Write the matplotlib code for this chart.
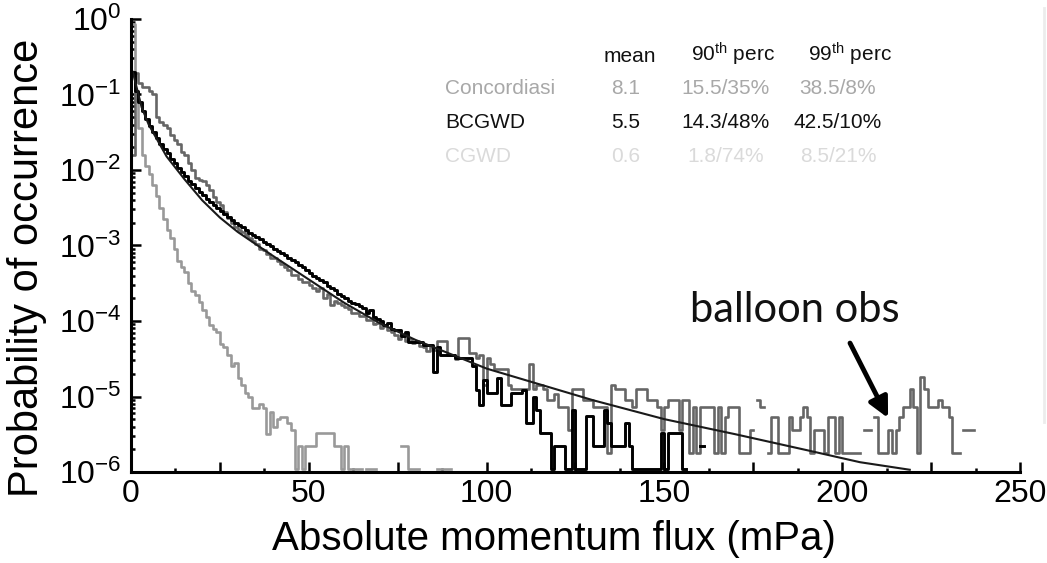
import numpy as np
import matplotlib.pyplot as plt
from matplotlib.ticker import MultipleLocator, FuncFormatter, LogLocator, NullFormatter
from matplotlib.lines import Line2D

plt.rcParams['font.family'] = ['Liberation Sans', 'DejaVu Sans']
plt.rcParams['mathtext.fontset'] = 'custom'
plt.rcParams['mathtext.rm'] = 'Liberation Sans'
plt.rcParams['mathtext.it'] = 'Liberation Sans:italic'
plt.rcParams['mathtext.bf'] = 'Liberation Sans:bold'

# ---------------- data (1 mPa bins) ----------------
# Concordiasi balloon obs: log10(p) for bins 0..96, then counts for bins 97..236
conc_log_head = [
    -1.80, -0.72, -0.85, -0.90, -0.90, -0.95, -1.00, -1.30, -1.36, -1.40,
    -1.45, -1.54, -1.60, -1.66, -1.76, -1.80, -1.91, -2.00, -2.11, -2.13,
    -2.15, -2.20, -2.26, -2.36, -2.42, -2.47, -2.55, -2.63, -2.70, -2.76,
    -2.79, -2.82, -2.86, -2.90, -2.94, -2.98, -3.04, -3.06, -3.11, -3.16,
    -3.16, -3.20, -3.24, -3.28, -3.32, -3.39, -3.39, -3.44, -3.49, -3.49,
    -3.52, -3.56, -3.60, -3.56, -3.69, -3.64, -3.79, -3.74, -3.76, -3.79,
    -3.82, -3.84, -3.89, -3.89, -3.94, -3.94, -3.99, -3.99, -4.04, -4.02,
    -4.09, -4.06, -4.12, -4.14, -4.19, -4.24, -4.19, -4.26, -4.24, -4.29,
    -4.26, -4.33, -4.35, -4.40, -4.34, -4.38, -4.27, -4.27, -4.27, -4.45,
    -4.45, -4.50, -4.22, -4.22, -4.22, -4.43, -4.43]
conc_tail_counts = [
    18, 20, 8, 18, 15, 13, 13, 13, 13, 8,
    7, 7, 7, 7, 7, 15, 7, 8, 8, 7,
    5, 5, 6, 4, 4, 4, 2, 7, 7, 7,
    5, 5, 5, 4, 4, 4, 4, 1, 8, 7,
    7, 7, 5, 5, 4, 7, 7, 7, 5, 5,
    5, 4, 2, 4, 5, 5, 5, 2, 5, 5,
    1, 4, 1, 4, 4, 4, 4, 1, 4, 1,
    3, 4, 4, 4, 1, 1, 1, 2, None, 5,
    4, None, 1, 3, 3, 1, 1, 1, 3, 2,
    2, 3, 4, 3, 1, 2, 2, 2, 1, 3,
    3, 1, 3, 1, 1, 1, 1, 1, None, 2,
    2, None, 3, 1, 1, 1, 2, 1, 2, 3,
    4, 4, 7, 4, 1, 10, 7, 4, 4, 4,
    5, 4, 4, 3, 1, 1, None, 2, 2, 2]
conc_unit = 1.8e-6

# BCGWD: log10(p) for bins 0..95, then counts for bins 96..160
bcgwd_log_head = [
    -0.70, -0.95, -1.10, -1.22, -1.33, -1.42, -1.50, -1.58, -1.65, -1.72,
    -1.78, -1.85, -1.91, -1.97, -2.03, -2.08, -2.14, -2.19, -2.24, -2.29,
    -2.33, -2.38, -2.42, -2.46, -2.50, -2.54, -2.58, -2.62, -2.66, -2.70,
    -2.73, -2.76, -2.79, -2.83, -2.86, -2.89, -2.92, -2.95, -2.98, -3.01,
    -3.04, -3.07, -3.10, -3.13, -3.16, -3.19, -3.22, -3.26, -3.29, -3.33,
    -3.37, -3.40, -3.43, -3.46, -3.49, -3.53, -3.56, -3.59, -3.64, -3.67,
    -3.70, -3.73, -3.76, -3.78, -3.80, -3.83, -3.90, -3.86, -3.95, -3.97,
    -4.00, -4.05, -4.02, -4.10, -4.12, -4.12, -4.20, -4.15, -4.28, -4.28,
    -4.28, -4.28, -4.32, -4.32, -4.32, -4.68, -4.35, -4.45, -4.45, -4.45,
    -4.45, -4.49, -4.49, -4.49, -4.49, -4.49]
bcgwd_tail_counts = [
    23, 11, 7, 15, 10, 10, 10, 16, 7, 7,
    7, 10, 10, 10, 11, 4, 4, 9, 6, 3,
    3, 3, 1, 2, 2, 2, 1, 1, 6, 1,
    1, 1, 5, 5, 2, 2, 2, 6, 4, 2,
    2, 2, 2, 4, 2, 1, 1, 1, 1, 1,
    1, 1, 1, 3, 1, 3, 3, 3, 3, 1,
    None, None, None, None, 2]
bcgwd_unit = 1.1e-6

# CGWD: log10(p) for bins 0..45, then counts for bins 46..89
cgwd_log_head = [
    -0.07, -1.07, -1.45, -1.80, -1.95, -2.05, -2.20, -2.35, -2.50, -2.65,
    -2.80, -2.90, -3.05, -3.20, -3.28, -3.35, -3.50, -3.60, -3.65, -3.75,
    -3.85, -3.95, -4.05, -4.10, -4.15, -4.30, -4.35, -4.45, -4.60, -4.55,
    -4.75, -4.85, -4.95, -5.00, -5.15, -5.15, -5.10, -5.15, -5.50, -5.20,
    -5.40, -5.30, -5.27, -5.27, -5.35, -5.45]
cgwd_tail_counts = [
    1, 2, 1, 2, 2, 2, 3, 3, 3, 3,
    3, 2, 2, 1, 2, 1, 1, 1, 1, None,
    1, 1, 1, None, None, None, None, None, None, None,
    2, 2, 1, 1, 1, None, None, None, None, None,
    1, 1, 1, 1]
cgwd_unit = 1.1e-6

# smooth fitted distribution
fit_x = [0.5, 3, 5, 10, 15, 20, 25, 30, 40, 50, 60, 70, 80, 90, 100,
         115, 130, 150, 170, 190, 205, 219]
fit_log = [-0.70, -1.17, -1.40, -1.82, -2.12, -2.40, -2.63, -2.82, -3.14,
           -3.45, -3.76, -4.03, -4.25, -4.44, -4.63, -4.84, -5.05, -5.30,
           -5.50, -5.71, -5.87, -5.97]

# table
table_cols = ['mean', '90$^{\\mathrm{th}}$ perc', '99$^{\\mathrm{th}}$ perc']
table_rows = ['Concordiasi', 'BCGWD', 'CGWD']
table_vals = [['8.1', '15.5/35%', '38.5/8%'],
              ['5.5', '14.3/48%', '42.5/10%'],
              ['0.6', '1.8/74%', '8.5/21%']]
table_colors = ['#a8a8a8', '#111111', '#dadada']


def hist_series(log_head, counts, unit):
    tail = np.array([np.nan if c is None else c for c in counts], dtype=float)
    p = np.concatenate([10.0 ** np.array(log_head), tail * unit])
    edges = np.arange(len(p) + 1)
    return edges, np.append(p, p[-1])


fig = plt.figure(figsize=(10.47, 5.63), dpi=100)
ax = fig.add_axes([0.1251, 0.1616, 0.8491, 0.8047])

# 直方图（阶梯线）
x, y = hist_series(cgwd_log_head, cgwd_tail_counts, cgwd_unit)
ax.plot(x, y, drawstyle='steps-post', color='#999999', lw=1.9)
x, y = hist_series(conc_log_head, conc_tail_counts, conc_unit)
ax.plot(x, y, drawstyle='steps-post', color='#666666', lw=1.9)
x, y = hist_series(bcgwd_log_head, bcgwd_tail_counts, bcgwd_unit)
ax.plot(x, y, drawstyle='steps-post', color='black', lw=2.1)
# 拟合曲线
ax.plot(fit_x, 10.0 ** np.array(fit_log), color='#1a1a1a', lw=1.5)

ax.set_yscale('log')
ax.set_xlim(0, 250)
ax.set_ylim(1e-6, 1)

for s in ['top', 'right']:
    ax.spines[s].set_visible(False)
for s in ['left', 'bottom']:
    ax.spines[s].set_linewidth(2.2)

ax.xaxis.set_major_locator(MultipleLocator(25))
ax.xaxis.set_minor_locator(MultipleLocator(12.5))
ax.xaxis.set_major_formatter(FuncFormatter(lambda v, p: '%g' % v if v % 50 == 0 else ''))
ax.yaxis.set_major_locator(LogLocator(base=10, numticks=10))
ax.yaxis.set_minor_locator(LogLocator(base=10, subs=np.arange(2, 10), numticks=10))
ax.yaxis.set_minor_formatter(NullFormatter())
ax.tick_params(which='major', direction='in', length=7, width=1.8, labelsize=23, pad=7)
ax.tick_params(which='minor', direction='in', length=3, width=1.8)
ax.tick_params(axis='x', which='major', pad=5)

ax.set_xlabel('Absolute momentum flux (mPa)', fontsize=29)
ax.xaxis.set_label_coords(0.476, -0.105)
ax.set_ylabel('Probability of occurrence', fontsize=30)
ax.yaxis.set_label_coords(-0.094, 0.45)

# 表格文字
col_x = [0.5979, 0.6934, 0.8004]
head_x = [0.6017, 0.7001, 0.8118]
for j, name in enumerate(table_cols):
    fig.text(head_x[j], 0.8899, name, ha='center', va='baseline', fontsize=15, color='#111111')
row_y = [0.8330, 0.7726, 0.7123]
for i, name in enumerate(table_rows):
    fig.text(0.4250, row_y[i], name, ha='left', va='baseline', fontsize=15, color=table_colors[i])
    for j in range(3):
        fig.text(col_x[j], row_y[i], table_vals[i][j], ha='center', va='baseline',
                 fontsize=15, color=table_colors[i])

# 标注
fig.text(0.7593, 0.4280, 'balloon obs', ha='center', va='baseline', fontsize=30,
         family=['Lato', 'DejaVu Sans'], color='#111111')
ax.annotate('', xy=(212.9, 5.2e-6), xytext=(202.2, 5.1e-5),
            arrowprops=dict(arrowstyle='-|>', color='black', lw=3.5, mutation_scale=30,
                            shrinkA=0, shrinkB=0))

# 右侧页面边缘
fig.add_artist(Line2D([0.9975, 0.9975], [0.25, 0.985], color='#ececec', lw=2))

fig.savefig('out.png', dpi=100)
